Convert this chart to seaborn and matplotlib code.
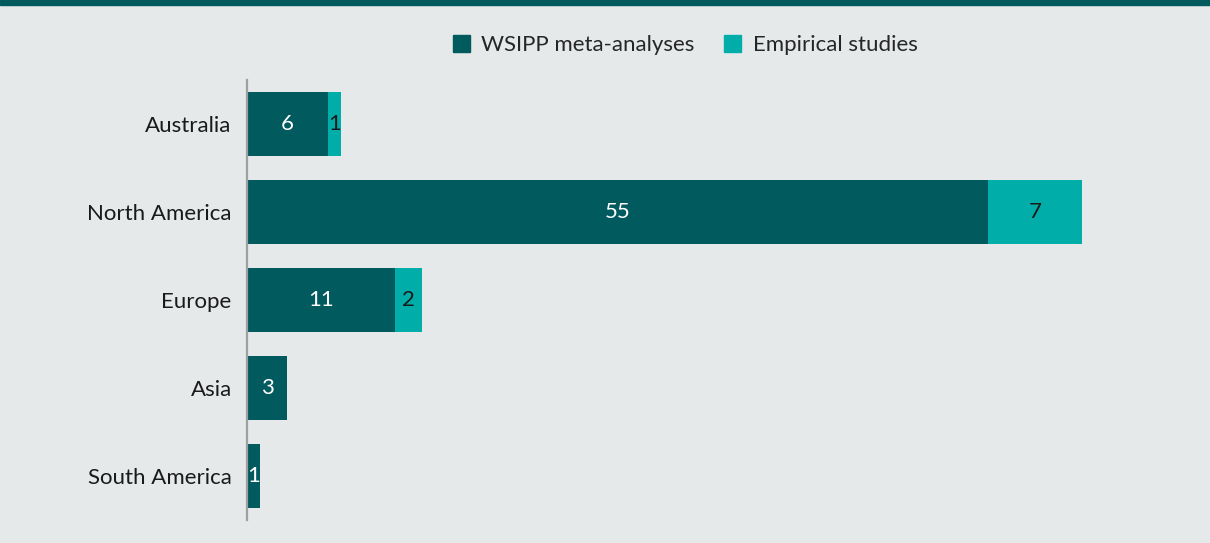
import pandas as pd
import seaborn as sns
import matplotlib.pyplot as plt
from matplotlib.patches import Rectangle, Patch

# Data
regions = ["Australia", "North America", "Europe", "Asia", "South America"]
wsipp = [6, 55, 11, 3, 1]
empirical = [1, 7, 2, 0, 0]

dark = "#005A5E"
light = "#00ADA8"
bg = "#E5E9E9"

data = pd.DataFrame({"region": regions, "wsipp": wsipp, "empirical": empirical})
data["total"] = data["wsipp"] + data["empirical"]

sns.set_style("white")
plt.rcParams["font.family"] = ["Lato", "DejaVu Sans"]

fig = plt.figure(figsize=(12.1, 5.43), dpi=100, facecolor=bg)
ax = fig.add_axes([247 / 1210, 1 - 520 / 543, (1190 - 247) / 1210, 440 / 543])
ax.set_facecolor(bg)

# Stacked bars: total in light teal underneath, WSIPP in dark teal on top
sns.barplot(data=data, x="total", y="region", color=light, width=0.72,
            saturation=1, linewidth=0, ax=ax, order=regions)
sns.barplot(data=data, x="wsipp", y="region", color=dark, width=0.72,
            saturation=1, linewidth=0, ax=ax, order=regions)

# Segment labels
for i, row in data.iterrows():
    ax.text(row["wsipp"] / 2, i, str(row["wsipp"]), ha="center", va="center",
            color="white", fontsize=16)
    if row["empirical"] > 0:
        ax.text(row["wsipp"] + row["empirical"] / 2, i, str(row["empirical"]),
                ha="center", va="center", color="#1a1a1a", fontsize=16)

ax.set_xlim(0, 70)
ax.set_ylim(4.5, -0.5)
ax.set_xlabel("")
ax.set_ylabel("")
ax.set_xticks([])
ax.tick_params(axis="y", length=0, labelsize=16, labelcolor="#1a1a1a", pad=11)
for side in ["top", "right", "bottom"]:
    ax.spines[side].set_visible(False)
ax.spines["left"].set_color("#A0A0A0")
ax.spines["left"].set_linewidth(1.6)

# Legend
handles = [Patch(color=dark, label="WSIPP meta-analyses"),
           Patch(color=light, label="Empirical studies")]
fig.legend(handles=handles, loc="center", bbox_to_anchor=(685 / 1210, 1 - 45 / 543),
           ncol=2, frameon=False, fontsize=16, handlelength=0.8, handleheight=0.8,
           handletextpad=0.5, columnspacing=1.3)

# Dark header band at the top
fig.patches.append(Rectangle((0, 1 - 5 / 543), 1, 5 / 543, transform=fig.transFigure,
                             color=dark, zorder=0))

fig.savefig("out.png", dpi=100, facecolor=bg)
